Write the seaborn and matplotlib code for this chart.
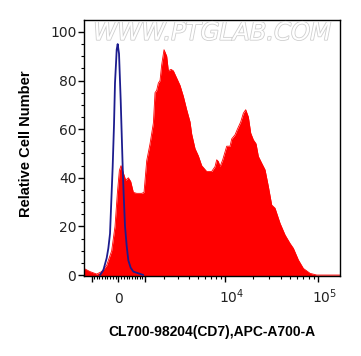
import numpy as np
import matplotlib
matplotlib.use('Agg')
import matplotlib.pyplot as plt
import matplotlib.patheffects as pe
from matplotlib.ticker import FixedLocator, MultipleLocator
from matplotlib.transforms import ScaledTranslation
import seaborn as sns

# CD7 stained sample (red, filled) and isotype/unstained control (blue line)
red_x = [-1372, -1090, -807, -609, -420, -238, -119, -36, 36, 95, 178, 262, 359, 445,
         545, 674, 876, 974, 1091, 1244, 1405, 1489, 1575, 1665, 1757, 1852, 1990, 2157,
         2265, 2447, 2615, 2871, 3146, 3442, 3762, 4107, 4290, 4679, 5099, 5553, 6308,
         7159, 7786, 8119, 8466, 8829, 9438, 10431, 11336, 11818, 12842, 13610, 14788,
         15801, 16744, 17892, 18958, 20255, 21640, 22928, 24907, 27053, 29382, 31910,
         34657, 39227, 44396, 50251, 54573, 61762, 69899, 82441, 97236, 173000]
red_y = [2.7, 1.4, 0.4, 1.4, 4, 10, 20, 33.6, 43, 45, 42, 39, 40, 38.5,
         34, 33.6, 33.6, 34, 47, 54, 62.5, 75, 76, 79, 80, 86.5, 92.7, 90,
         84, 84.6, 84, 81, 78, 73.5, 68, 63, 58, 52, 49, 45, 42.6,
         42.6, 44.6, 47.4, 46.7, 44.6, 47.4, 53, 53, 56, 57.7, 60, 63,
         66.6, 68, 65, 58.4, 55.6, 54, 48.8, 46, 43.3, 36.4, 28.8,
         27.5, 21.3, 16.5, 13, 11, 6.2, 2.7, 0.7, 0, 0]

blue_x = [-674, -545, -420, -359, -298, -202, -154, -119, -83, -59, -24,
          24, 83, 119, 154, 190, 238, 298, 359, 445, 545, 946]
blue_y = [0, 2, 7, 11, 17, 44.6, 62, 79, 87, 92.7, 95,
          91, 72, 58, 44.6, 33, 20, 12, 6, 3, 1.4, 0]

major_x = [-1000, 0, 1000, 10000, 100000]
major_lbl = ['', '0', '', '$10^4$', '$10^5$']
minor_x = ([-100 * i for i in range(1, 10)] + [100 * i for i in range(1, 10)]
           + [1000 * i for i in range(2, 10)] + [10000 * i for i in range(2, 10)])

C = 1435.0  # biexponential-like display width


def fwd(x):
    return np.arcsinh(np.asarray(x, dtype=float) / C)


def inv(u):
    return C * np.sinh(u)


sns.set_style('ticks')
plt.rcParams['font.family'] = ['DejaVu Sans']

fig = plt.figure(figsize=(3.61, 3.56), dpi=100)
ax = fig.add_axes([84 / 361, 80 / 356, 256 / 361, 256 / 356])

ax.fill_between(red_x, red_y, -1, color='#ff0000', linewidth=0, zorder=2)
sns.lineplot(x=red_x, y=red_y, color='#ff0000', linewidth=0.6, ax=ax, zorder=2)
sns.lineplot(x=blue_x, y=blue_y, color='#1c1c8e', linewidth=1.3, ax=ax, zorder=3)

ax.set_xscale('function', functions=(fwd, inv))
ax.set_xlim(-1372, 173000)
ax.set_ylim(-0.4, 104.9)

ax.xaxis.set_major_locator(FixedLocator(major_x))
ax.xaxis.set_minor_locator(FixedLocator(minor_x))
ax.set_xticklabels(major_lbl)
ax.yaxis.set_major_locator(MultipleLocator(20))
ax.yaxis.set_minor_locator(MultipleLocator(5))

ax.tick_params(which='major', direction='out', length=4.5, width=1.0, color='black',
               labelsize=10, labelcolor='#222222')
ax.tick_params(which='minor', direction='out', length=2.5, width=0.8, color='black')
ax.tick_params(axis='y', which='major', pad=1)
ax.tick_params(axis='x', which='major', pad=15)
plt.setp(ax.get_xticklabels(), va='baseline')
for lbl in ax.get_xticklabels()[3:]:
    lbl.set_transform(lbl.get_transform() + ScaledTranslation(7 / 100, 0, fig.dpi_scale_trans))

for s in ax.spines.values():
    s.set_visible(True)
    s.set_linewidth(1.0)
    s.set_color('black')

ax.set_xlabel('CL700-98204(CD7),APC-A700-A', fontsize=10, fontweight='bold', color='black',
              family=['Liberation Sans', 'DejaVu Sans'])
ax.set_ylabel('Relative Cell Number', fontsize=10.5, fontweight='bold', color='black',
              family=['Liberation Sans', 'DejaVu Sans'])
ax.xaxis.set_label_coords(0.498, -0.19)
ax.yaxis.set_label_coords(-0.20, 0.516)

ax.text(0.5, 0.95, 'WWW.PTGLAB.COM', transform=ax.transAxes, ha='center', va='center',
        fontsize=17.5, style='italic', color='white', zorder=5,
        path_effects=[pe.withStroke(linewidth=1.2, foreground='#cfcfcf')])

fig.savefig('out.png', dpi=100)
